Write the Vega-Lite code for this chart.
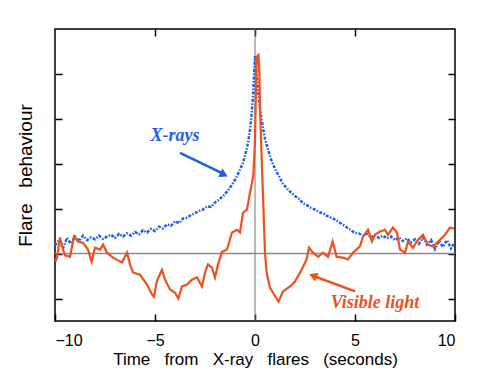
{
  "$schema": "https://vega.github.io/schema/vega-lite/v6.json",
  "autosize": {"type": "none"},
  "width": 400,
  "height": 292,
  "padding": {"left": 55, "top": 29, "right": 29, "bottom": 61},
  "background": "white",
  "config": {
    "view": {"stroke": "black", "strokeWidth": 1.5},
    "axis": {"domain": false, "grid": false, "tickColor": "black", "tickWidth": 1.5, "labelFont": "Liberation Sans", "titleFont": "Liberation Sans", "labelColor": "black", "titleColor": "black", "titleFontWeight": "normal"}
  },
  "datasets": {
    "xray": [
      {"t": -10.0, "v": 0.18}, {"t": -9.8, "v": 0.30}, {"t": -9.6, "v": 0.12}, {"t": -9.4, "v": 0.35}, {"t": -9.2, "v": 0.22},
      {"t": -9.0, "v": 0.38}, {"t": -8.8, "v": 0.28}, {"t": -8.6, "v": 0.40}, {"t": -8.4, "v": 0.30}, {"t": -8.2, "v": 0.36},
      {"t": -8.0, "v": 0.32}, {"t": -7.8, "v": 0.40}, {"t": -7.6, "v": 0.33}, {"t": -7.4, "v": 0.38}, {"t": -7.2, "v": 0.42},
      {"t": -7.0, "v": 0.35}, {"t": -6.8, "v": 0.44}, {"t": -6.6, "v": 0.38}, {"t": -6.4, "v": 0.45}, {"t": -6.2, "v": 0.40},
      {"t": -6.0, "v": 0.48}, {"t": -5.8, "v": 0.43}, {"t": -5.6, "v": 0.52}, {"t": -5.4, "v": 0.47}, {"t": -5.2, "v": 0.55},
      {"t": -5.0, "v": 0.50}, {"t": -4.8, "v": 0.60}, {"t": -4.6, "v": 0.56}, {"t": -4.4, "v": 0.65}, {"t": -4.2, "v": 0.62},
      {"t": -4.0, "v": 0.72}, {"t": -3.8, "v": 0.68}, {"t": -3.6, "v": 0.78}, {"t": -3.4, "v": 0.80}, {"t": -3.2, "v": 0.86},
      {"t": -3.0, "v": 0.90}, {"t": -2.8, "v": 0.95}, {"t": -2.6, "v": 0.98}, {"t": -2.4, "v": 1.05}, {"t": -2.2, "v": 1.04},
      {"t": -2.0, "v": 1.14}, {"t": -1.8, "v": 1.20}, {"t": -1.6, "v": 1.28}, {"t": -1.4, "v": 1.38}, {"t": -1.2, "v": 1.50},
      {"t": -1.0, "v": 1.64}, {"t": -0.8, "v": 1.82}, {"t": -0.6, "v": 2.02}, {"t": -0.4, "v": 2.35}, {"t": -0.3, "v": 2.60},
      {"t": -0.2, "v": 2.95}, {"t": -0.1, "v": 3.50}, {"t": 0.0, "v": 4.40}, {"t": 0.1, "v": 3.90}, {"t": 0.2, "v": 3.40},
      {"t": 0.3, "v": 3.05}, {"t": 0.4, "v": 2.80}, {"t": 0.5, "v": 2.55}, {"t": 0.6, "v": 2.40}, {"t": 0.8, "v": 2.10},
      {"t": 1.0, "v": 1.88}, {"t": 1.2, "v": 1.72}, {"t": 1.4, "v": 1.55}, {"t": 1.6, "v": 1.45}, {"t": 1.8, "v": 1.36},
      {"t": 2.0, "v": 1.28}, {"t": 2.2, "v": 1.22}, {"t": 2.4, "v": 1.12}, {"t": 2.6, "v": 1.08}, {"t": 2.8, "v": 1.02},
      {"t": 3.0, "v": 0.98}, {"t": 3.2, "v": 0.92}, {"t": 3.4, "v": 0.90}, {"t": 3.6, "v": 0.84}, {"t": 3.8, "v": 0.80},
      {"t": 4.0, "v": 0.76}, {"t": 4.2, "v": 0.70}, {"t": 4.4, "v": 0.64}, {"t": 4.6, "v": 0.58}, {"t": 4.8, "v": 0.52},
      {"t": 5.0, "v": 0.46}, {"t": 5.2, "v": 0.45}, {"t": 5.4, "v": 0.40}, {"t": 5.6, "v": 0.44}, {"t": 5.8, "v": 0.36},
      {"t": 6.0, "v": 0.42}, {"t": 6.2, "v": 0.35}, {"t": 6.4, "v": 0.40}, {"t": 6.6, "v": 0.34}, {"t": 6.8, "v": 0.38},
      {"t": 7.0, "v": 0.30}, {"t": 7.2, "v": 0.36}, {"t": 7.4, "v": 0.28}, {"t": 7.6, "v": 0.34}, {"t": 7.8, "v": 0.25},
      {"t": 8.0, "v": 0.32}, {"t": 8.2, "v": 0.22}, {"t": 8.4, "v": 0.36}, {"t": 8.6, "v": 0.20}, {"t": 8.8, "v": 0.30},
      {"t": 9.0, "v": 0.10}, {"t": 9.2, "v": 0.28}, {"t": 9.4, "v": 0.15}, {"t": 9.6, "v": 0.30}, {"t": 9.8, "v": 0.12},
      {"t": 10.0, "v": 0.25}
    ],
    "visible": [
      {"t": -9.98, "v": -0.18}, {"t": -9.9, "v": -0.09}, {"t": -9.75, "v": 0.36}, {"t": -9.6, "v": 0.09}, {"t": -9.5, "v": -0.04},
      {"t": -9.25, "v": -0.07}, {"t": -9.05, "v": 0.38}, {"t": -8.85, "v": 0.27}, {"t": -8.6, "v": 0.24}, {"t": -8.35, "v": 0.09},
      {"t": -8.17, "v": -0.18}, {"t": -8.0, "v": 0.13}, {"t": -7.75, "v": 0.09}, {"t": -7.6, "v": 0.2}, {"t": -7.4, "v": 0.02},
      {"t": -7.1, "v": -0.09}, {"t": -6.65, "v": -0.2}, {"t": -6.4, "v": 0.02}, {"t": -6.25, "v": -0.24}, {"t": -6.1, "v": -0.42},
      {"t": -5.75, "v": -0.47}, {"t": -5.4, "v": -0.69}, {"t": -5.15, "v": -0.91}, {"t": -5.05, "v": -0.96}, {"t": -4.9, "v": -0.6},
      {"t": -4.65, "v": -0.36}, {"t": -4.5, "v": -0.58}, {"t": -4.25, "v": -0.8}, {"t": -4.0, "v": -0.87}, {"t": -3.83, "v": -1.0},
      {"t": -3.65, "v": -0.73}, {"t": -3.4, "v": -0.69}, {"t": -3.15, "v": -0.58}, {"t": -2.9, "v": -0.53}, {"t": -2.65, "v": -0.73},
      {"t": -2.5, "v": -0.42}, {"t": -2.35, "v": -0.24}, {"t": -2.15, "v": -0.31}, {"t": -2.0, "v": -0.53}, {"t": -1.85, "v": -0.24},
      {"t": -1.65, "v": 0.04}, {"t": -1.4, "v": 0.09}, {"t": -1.15, "v": 0.47}, {"t": -0.9, "v": 0.53}, {"t": -0.75, "v": 0.47},
      {"t": -0.6, "v": 0.91}, {"t": -0.4, "v": 0.98}, {"t": -0.25, "v": 1.36}, {"t": -0.15, "v": 1.58}, {"t": -0.08, "v": 1.76},
      {"t": 0.0, "v": 2.53}, {"t": 0.08, "v": 4.38}, {"t": 0.17, "v": 4.42}, {"t": 0.22, "v": 4.02}, {"t": 0.25, "v": 3.27},
      {"t": 0.33, "v": 2.16}, {"t": 0.42, "v": 1.04}, {"t": 0.5, "v": 0.02}, {"t": 0.58, "v": -0.42}, {"t": 0.75, "v": -0.76},
      {"t": 0.9, "v": -0.87}, {"t": 1.05, "v": -0.98}, {"t": 1.18, "v": -1.07}, {"t": 1.4, "v": -0.84}, {"t": 1.75, "v": -0.73},
      {"t": 2.0, "v": -0.62}, {"t": 2.33, "v": -0.36}, {"t": 2.58, "v": -0.13}, {"t": 2.7, "v": 0.13}, {"t": 2.9, "v": 0.02},
      {"t": 3.15, "v": -0.07}, {"t": 3.4, "v": 0.02}, {"t": 3.65, "v": -0.07}, {"t": 3.88, "v": 0.27}, {"t": 4.08, "v": -0.07},
      {"t": 4.4, "v": -0.09}, {"t": 4.65, "v": -0.13}, {"t": 4.9, "v": 0.02}, {"t": 5.25, "v": 0.16}, {"t": 5.4, "v": 0.38},
      {"t": 5.65, "v": 0.53}, {"t": 5.85, "v": 0.27}, {"t": 6.0, "v": 0.42}, {"t": 6.25, "v": 0.49}, {"t": 6.5, "v": 0.53},
      {"t": 6.65, "v": 0.42}, {"t": 6.9, "v": 0.58}, {"t": 7.1, "v": 0.47}, {"t": 7.25, "v": 0.09}, {"t": 7.5, "v": 0.02},
      {"t": 7.65, "v": 0.27}, {"t": 7.9, "v": 0.13}, {"t": 8.15, "v": 0.31}, {"t": 8.4, "v": 0.42}, {"t": 8.65, "v": 0.2},
      {"t": 8.9, "v": 0.16}, {"t": 9.25, "v": 0.31}, {"t": 9.5, "v": 0.42}, {"t": 9.75, "v": 0.58}, {"t": 9.95, "v": 0.56}
    ],
    "arrows": [
      {"t": -3.75, "v": 2.24, "t2": -1.6, "v2": 1.78, "c": "X-rays"},
      {"t": 5.0, "v": -0.84, "t2": 3.0, "v2": -0.51, "c": "Visible light"}
    ],
    "heads": [
      {"t": -1.55, "v": 1.76, "a": 26.6, "c": "X-rays"},
      {"t": 2.9, "v": -0.49, "a": 200.9, "c": "Visible light"}
    ],
    "labels": [
      {"t": -4.0, "v": 2.62, "c": "X-rays"},
      {"t": 6.0, "v": -1.11, "c": "Visible light"}
    ]
  },
  "resolve": {"axis": {"x": "independent", "y": "independent"}},
  "layer": [
    {
      "data": {"values": [{"t": 0, "v": 0}]},
      "mark": {"type": "rule", "color": "#8a8a8a", "strokeWidth": 1.5},
      "encoding": {
        "y": {"field": "v", "type": "quantitative", "scale": {"domain": [-1.5, 5], "nice": false, "zero": false},
              "axis": {"orient": "left", "values": [-1, 0, 1, 2, 3, 4], "labels": false, "tickSize": -7, "title": "Flare\u00a0\u00a0\u00a0behaviour", "titleFontSize": 19, "titlePadding": 19}}
      }
    },
    {
      "data": {"values": [{"t": 0, "v": 0}]},
      "mark": {"type": "rule", "color": "#777777", "strokeWidth": 1},
      "encoding": {
        "x": {"field": "t", "type": "quantitative", "scale": {"domain": [-10, 10], "nice": false, "zero": false},
              "axis": {"orient": "bottom", "values": [-10, -5, 0, 5, 10], "tickSize": -7, "labelFontSize": 16, "labelPadding": 18, "title": "Time\u00a0\u00a0\u00a0from\u00a0\u00a0\u00a0X-ray\u00a0\u00a0\u00a0flares\u00a0\u00a0\u00a0(seconds)", "titleFontSize": 17, "titlePadding": 3}}
      }
    },
    {
      "data": {"name": "xray"},
      "mark": {"type": "line", "color": "#1f5fe6", "strokeWidth": 2.5, "strokeDash": [3, 1.5, 1.5, 1.5]},
      "encoding": {
        "x": {"field": "t", "type": "quantitative", "scale": {"domain": [-10, 10], "nice": false, "zero": false},
              "axis": {"orient": "top", "values": [-5, 0, 5], "labels": false, "tickSize": -7, "title": null}},
        "y": {"field": "v", "type": "quantitative", "scale": {"domain": [-1.5, 5], "nice": false, "zero": false},
              "axis": {"orient": "right", "values": [-1, 0, 1, 2, 3, 4], "labels": false, "tickSize": -7, "title": null}}
      }
    },
    {
      "data": {"name": "visible"},
      "mark": {"type": "line", "color": "#f0501e", "strokeWidth": 2.2},
      "encoding": {
        "x": {"field": "t", "type": "quantitative", "scale": {"domain": [-10, 10], "nice": false, "zero": false}, "axis": null},
        "y": {"field": "v", "type": "quantitative", "scale": {"domain": [-1.5, 5], "nice": false, "zero": false}, "axis": null}
      }
    },
    {
      "data": {"name": "arrows"},
      "mark": {"type": "rule", "strokeWidth": 2.5},
      "encoding": {
        "x": {"field": "t", "type": "quantitative", "scale": {"domain": [-10, 10], "nice": false, "zero": false}, "axis": null},
        "y": {"field": "v", "type": "quantitative", "scale": {"domain": [-1.5, 5], "nice": false, "zero": false}, "axis": null},
        "x2": {"field": "t2"},
        "y2": {"field": "v2"},
        "color": {"field": "c", "type": "nominal", "scale": {"domain": ["X-rays", "Visible light"], "range": ["#1f5fe6", "#f0501e"]}, "legend": null}
      }
    },
    {
      "data": {"name": "heads"},
      "mark": {"type": "point", "shape": "triangle-right", "filled": true, "size": 90, "opacity": 1},
      "encoding": {
        "x": {"field": "t", "type": "quantitative", "scale": {"domain": [-10, 10], "nice": false, "zero": false}, "axis": null},
        "y": {"field": "v", "type": "quantitative", "scale": {"domain": [-1.5, 5], "nice": false, "zero": false}, "axis": null},
        "angle": {"field": "a", "type": "quantitative", "scale": null},
        "color": {"field": "c", "type": "nominal", "scale": {"domain": ["X-rays", "Visible light"], "range": ["#1f5fe6", "#f0501e"]}, "legend": null}
      }
    },
    {
      "data": {"name": "labels"},
      "mark": {"type": "text", "font": "Liberation Serif, Times New Roman, serif", "fontStyle": "italic", "fontWeight": "bold", "fontSize": 18, "align": "center", "baseline": "middle"},
      "encoding": {
        "x": {"field": "t", "type": "quantitative", "scale": {"domain": [-10, 10], "nice": false, "zero": false}, "axis": null},
        "y": {"field": "v", "type": "quantitative", "scale": {"domain": [-1.5, 5], "nice": false, "zero": false}, "axis": null},
        "text": {"field": "c"},
        "color": {"field": "c", "type": "nominal", "scale": {"domain": ["X-rays", "Visible light"], "range": ["#1f5fe6", "#f0501e"]}, "legend": null}
      }
    }
  ]
}
